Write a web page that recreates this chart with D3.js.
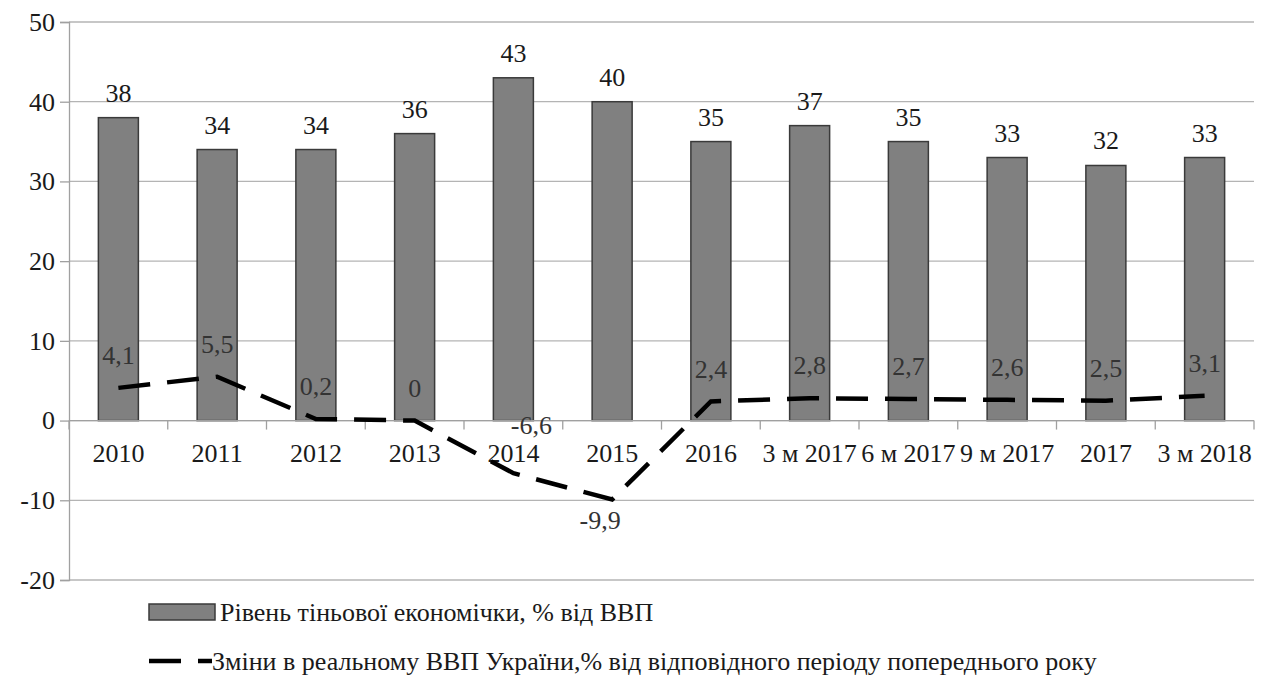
<!DOCTYPE html>
<html>
<head>
<meta charset="utf-8">
<title>Тіньова економіка</title>
<script src="https://d3js.org/d3.v7.min.js"></script>
<style>
  html, body { margin: 0; padding: 0; background: #fff; }
  svg text { font-family: "Liberation Serif", "Times New Roman", serif; }
</style>
</head>
<body>
<script>
// data
const categories = ["2010", "2011", "2012", "2013", "2014", "2015", "2016",
  "3 м 2017", "6 м 2017", "9 м 2017", "2017", "3 м 2018"];
const shadowEconomy = [38, 34, 34, 36, 43, 40, 35, 37, 35, 33, 32, 33];
const gdpChange = [4.1, 5.5, 0.2, 0, -6.6, -9.9, 2.4, 2.8, 2.7, 2.6, 2.5, 3.1];
const yTicks = [-20, -10, 0, 10, 20, 30, 40, 50];
const seriesNames = ["Рівень тіньової економічки, % від ВВП",
  "Зміни в реальному ВВП України,% від відповідного періоду попереднього року"];

const W = 1264, H = 675;
const plotL = 69, plotR = 1254, plotT = 22, plotB = 580;
const FONT = '"Liberation Serif", "Times New Roman", serif';
const FS = 26;

const svg = d3.select("body").append("svg")
  .attr("width", W).attr("height", H)
  .attr("font-family", FONT);

const x = d3.scaleBand().domain(categories).range([plotL, plotR]);
const y = d3.scaleLinear().domain([-20, 50]).range([plotB, plotT]);

const fmt = v => String(v).replace(".", ",");

// gridlines
svg.append("g").selectAll("line").data(yTicks).join("line")
  .attr("x1", plotL).attr("x2", plotR)
  .attr("y1", d => y(d)).attr("y2", d => y(d))
  .attr("stroke", "#b4b4b4").attr("stroke-width", 1.3);

// y axis
const yAxis = svg.append("g").attr("transform", `translate(${plotL},0)`)
  .call(d3.axisLeft(y).tickValues(yTicks).tickFormat(d => String(d))
    .tickSize(9).tickPadding(5));
yAxis.attr("font-family", FONT).attr("font-size", FS);
yAxis.select(".domain").attr("stroke", "#a0a0a0").attr("stroke-width", 1.3);
yAxis.selectAll(".tick line").attr("stroke", "#a0a0a0").attr("stroke-width", 1.3);
yAxis.selectAll("text").attr("fill", "#1a1a1a");

// bars
const bw = 40;
svg.append("g").selectAll("rect").data(shadowEconomy).join("rect")
  .attr("x", (d, i) => x(categories[i]) + x.bandwidth() / 2 - bw / 2)
  .attr("y", d => y(d))
  .attr("width", bw)
  .attr("height", d => y(0) - y(d))
  .attr("fill", "#808080")
  .attr("stroke", "#3a3a3a").attr("stroke-width", 1.5);

// x axis on zero line
const xAxis = svg.append("g").attr("transform", `translate(0,${y(0)})`);
xAxis.append("line").attr("x1", plotL).attr("x2", plotR)
  .attr("stroke", "#a0a0a0").attr("stroke-width", 1.3);
xAxis.selectAll(".tk").data(d3.range(categories.length + 1)).join("line")
  .attr("class", "tk")
  .attr("x1", i => plotL + i * x.bandwidth()).attr("x2", i => plotL + i * x.bandwidth())
  .attr("y1", 0).attr("y2", 9)
  .attr("stroke", "#a0a0a0").attr("stroke-width", 1.3);
xAxis.selectAll("text").data(categories).join("text")
  .attr("x", d => x(d) + x.bandwidth() / 2)
  .attr("y", 41)
  .attr("text-anchor", "middle")
  .attr("font-size", FS)
  .attr("fill", "#1a1a1a")
  .text(d => d);

// bar labels
svg.append("g").selectAll("text").data(shadowEconomy).join("text")
  .attr("x", (d, i) => x(categories[i]) + x.bandwidth() / 2)
  .attr("y", d => y(d) - 16)
  .attr("text-anchor", "middle")
  .attr("font-size", FS)
  .attr("fill", "#1a1a1a")
  .text(d => d);

// dashed line
const line = d3.line()
  .x((d, i) => x(categories[i]) + x.bandwidth() / 2)
  .y(d => y(d));
svg.append("path").datum(gdpChange)
  .attr("d", line)
  .attr("fill", "none")
  .attr("stroke", "#000")
  .attr("stroke-width", 4.5)
  .attr("stroke-dasharray", "32,17");

// line labels
const off = (d, i) => {
  if (i === 4) return [18, -48];
  if (i === 5) return [-12, 20];
  return [0, -33];
};
svg.append("g").selectAll("text").data(gdpChange).join("text")
  .attr("x", (d, i) => x(categories[i]) + x.bandwidth() / 2 + off(d, i)[0])
  .attr("y", (d, i) => y(d) + off(d, i)[1])
  .attr("dy", "0.35em")
  .attr("text-anchor", "middle")
  .attr("font-size", FS)
  .attr("fill", "#333")
  .text(d => fmt(d));

// legend
const lg = svg.append("g");
lg.append("rect").attr("x", 149).attr("y", 604).attr("width", 66).attr("height", 16)
  .attr("fill", "#808080").attr("stroke", "#3a3a3a").attr("stroke-width", 1.5);
lg.append("text").attr("x", 220).attr("y", 612).attr("dy", "0.35em")
  .attr("font-size", FS).attr("fill", "#1a1a1a").text(seriesNames[0]);
lg.append("line").attr("x1", 149).attr("x2", 212).attr("y1", 661).attr("y2", 661)
  .attr("stroke", "#000").attr("stroke-width", 4.5).attr("stroke-dasharray", "32,17");
lg.append("text").attr("x", 212).attr("y", 661).attr("dy", "0.35em")
  .attr("font-size", FS).attr("fill", "#1a1a1a").text(seriesNames[1]);
</script>
</body>
</html>
